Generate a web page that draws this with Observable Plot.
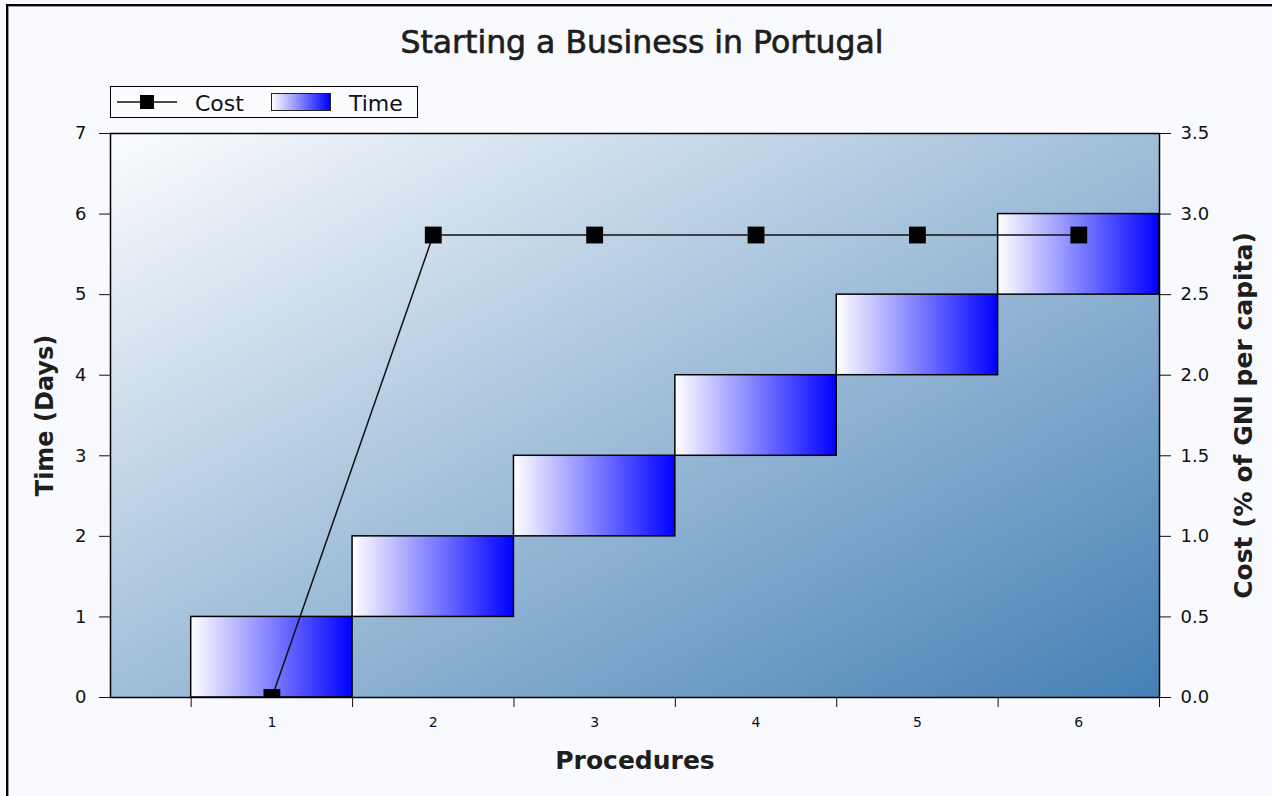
<!DOCTYPE html>
<html>
<head>
<meta charset="utf-8">
<script src="https://cdn.jsdelivr.net/npm/d3@7"></script>
<script src="https://cdn.jsdelivr.net/npm/@observablehq/plot@0.6"></script>
<style>
html, body { margin: 0; padding: 0; background: #f9fafd; }
#wrap { position: relative; width: 1272px; height: 796px; overflow: hidden; font-family: "DejaVu Sans", sans-serif; }
#border { position: absolute; left: 6px; top: 4px; width: 1300px; height: 900px; border-top: 2px solid #000; border-left: 2px solid #000; box-shadow: inset 1px 1px 0 #9a9a9a; }
#chart { position: absolute; left: 0; top: 0; }
#title { position: absolute; left: 6px; width: 1272px; top: 27px; text-align: center; font-size: 31.5px; line-height: 31px; color: #1e1e1e; white-space: nowrap; -webkit-text-stroke: 0.7px #1e1e1e; }
#legend { position: absolute; left: 110px; top: 86px; width: 308px; height: 32px; box-sizing: border-box; border: 1.5px solid #000; background: #fbfcfe; }
#legend .lbl { position: absolute; top: 6px; font-size: 22px; line-height: 22px; color: #111; }
#legend .sw { position: absolute; left: 160px; top: 6px; width: 60px; height: 18px; box-sizing: border-box; border: 1px solid #222; background: linear-gradient(to right, #ffffff, #0000ff); }
#legend svg { position: absolute; left: 5px; top: 7px; }
</style>
</head>
<body>
<div id="wrap">
  <div id="border"></div>
  <div id="chart"></div>
  <div id="title">Starting a Business in Portugal</div>
  <div id="legend">
    <svg width="62" height="16"><line x1="1" y1="8" x2="61" y2="8" stroke="#111" stroke-width="1.5"></line><rect x="24" y="1" width="14" height="14" fill="#000"></rect></svg>
    <span class="lbl" style="left:84px">Cost</span>
    <div class="sw"></div>
    <span class="lbl" style="left:238px">Time</span>
  </div>
</div>
<script>
// ---- data ----
const procedures = [1, 2, 3, 4, 5, 6];
const timeStart = [0, 1, 2, 3, 4, 5];
const timeEnd = [1, 2, 3, 4, 5, 6];
const cost = [0, 2.87, 2.87, 2.87, 2.87, 2.87];
const leftTicks = [0, 1, 2, 3, 4, 5, 6, 7];
const leftTickLabels = ["0", "1", "2", "3", "4", "5", "6", "7"];
const rightTickLabels = ["0.0", "0.5", "1.0", "1.5", "2.0", "2.5", "3.0", "3.5"];
const costToTime = 2; // right axis 0-3.5 maps onto left axis 0-7

const rows = procedures.map((p, i) => ({ p, t0: timeStart[i], t1: timeEnd[i], c: cost[i] }));
const edges = procedures.map(p => p - 0.5).concat([procedures[procedures.length - 1] + 0.5]);

const defsMark = () => {
  const defs = d3.create("svg:defs");
  const bg = defs.append("linearGradient").attr("id", "bgGrad")
    .attr("x1", 0).attr("y1", 0).attr("x2", 1).attr("y2", 1);
  bg.append("stop").attr("offset", "0%").attr("stop-color", "#fbfcfe");
  bg.append("stop").attr("offset", "100%").attr("stop-color", "#4580b4");
  const bar = defs.append("linearGradient").attr("id", "barGrad")
    .attr("x1", 0).attr("y1", 0).attr("x2", 1).attr("y2", 0);
  bar.append("stop").attr("offset", "0%").attr("stop-color", "#ffffff");
  bar.append("stop").attr("offset", "100%").attr("stop-color", "#0000ff");
  return defs.node();
};

const chart = Plot.plot({
  width: 1272,
  height: 796,
  marginTop: 133,
  marginLeft: 110,
  marginRight: 113,
  marginBottom: 99,
  style: { background: "transparent", fontFamily: "DejaVu Sans", fontSize: "18px", color: "#111", overflow: "visible" },
  x: { type: "linear", domain: [0, 6.5], label: null },
  y: { domain: [0, 7], label: null },
  marks: [
    defsMark,
    Plot.frame({ fill: "url(#bgGrad)" }),
    Plot.rect(rows, { x1: d => d.p - 0.5, x2: d => d.p + 0.5, y1: "t0", y2: "t1", fill: "url(#barGrad)", stroke: "#000", strokeWidth: 1.5 }),
    Plot.line(rows, { x: "p", y: d => d.c * costToTime, stroke: "#111", strokeWidth: 1.5 }),
    Plot.dot(rows, { x: "p", y: d => d.c * costToTime, symbol: "square", r: 9.5, fill: "#000", stroke: "none", clip: true }),
    Plot.frame({ stroke: "#000", strokeWidth: 1.5 }),
    Plot.axisY({ ticks: leftTicks, tickFormat: d => leftTickLabels[leftTicks.indexOf(d)], tickSize: 11, tickPadding: 13, label: null, fontSize: 18 }),
    Plot.axisY({ anchor: "right", ticks: leftTicks, tickFormat: d => rightTickLabels[leftTicks.indexOf(d)], tickSize: 11, tickPadding: 10, label: null, fontSize: 18 }),
    Plot.axisX({ ticks: edges, tickFormat: () => "", tickSize: 10, label: null }),
    Plot.axisX({ ticks: procedures, tickFormat: d => String(d), tickSize: 0, tickPadding: 20, label: null, fontSize: 14 }),
    Plot.text(["Procedures"], { text: d => d, frameAnchor: "bottom", dy: 63, lineAnchor: "middle", fontSize: 25, fontWeight: "bold", fill: "#1e1e1e" }),
    Plot.text(["Time (Days)"], { text: d => d, frameAnchor: "left", dx: -65, rotate: -90, lineAnchor: "middle", textAnchor: "middle", fontSize: 24, fontWeight: "bold", fill: "#1e1e1e" }),
    Plot.text(["Cost (% of GNI per capita)"], { text: d => d, frameAnchor: "right", dx: 84, rotate: -90, lineAnchor: "middle", textAnchor: "middle", fontSize: 25, fontWeight: "bold", fill: "#1e1e1e" })
  ]
});
document.getElementById("chart").appendChild(chart);
</script>
</body>
</html>
